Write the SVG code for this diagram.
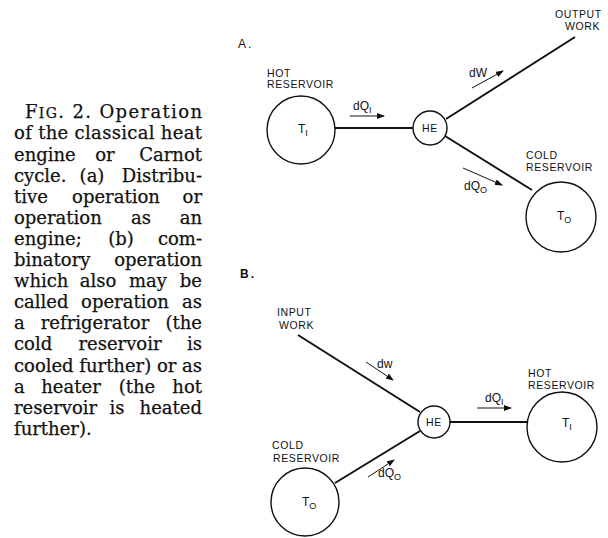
<svg xmlns="http://www.w3.org/2000/svg" width="608" height="538" viewBox="0 0 608 538">
<style>
.cap{font-family:"DejaVu Serif","Liberation Serif",serif;font-size:18px;fill:#111;stroke:#111;stroke-width:0.25}
.lbl{font-family:"Liberation Sans",Arial,sans-serif;font-size:10.5px;fill:#111;letter-spacing:0.6px}
.sec{font-family:"Liberation Sans",Arial,sans-serif;font-size:12px;fill:#111;letter-spacing:2px}
.sym{font-family:"Liberation Sans",Arial,sans-serif;font-size:12px;fill:#111}
.sub{font-size:9px}
.node{fill:#fff;stroke:#111;stroke-width:1.4}
.conn{stroke:#111;stroke-width:2;fill:none}
.flow{stroke:#111;stroke-width:1;fill:none;marker-end:url(#ah)}
.r{text-anchor:end}
.m{text-anchor:middle}
</style>
<defs>
<marker id="ah" markerUnits="userSpaceOnUse" markerWidth="8" markerHeight="6" refX="7" refY="3" orient="auto">
<path d="M0,0 L8,3 L0,6 Z" fill="#111"/>
</marker>
</defs>
<rect width="608" height="538" fill="#fff"/>

<g id="caption" class="cap">
<text x="25" y="118" textLength="177" lengthAdjust="spacing">F<tspan font-size="14">IG</tspan>. 2. Operation</text>
<text x="14" y="139.3" textLength="188" lengthAdjust="spacing">of the classical heat</text>
<text x="14" y="160.5">engine</text><text x="105" y="160.5" class="m">or</text><text x="202" y="160.5" class="r">Carnot</text>
<text x="14" y="181.6">cycle.</text><text x="92" y="181.6" class="m">(a)</text><text x="202" y="181.6" class="r">Distribu-</text>
<text x="14" y="202.7">tive</text><text x="116" y="202.7" class="m">operation</text><text x="202" y="202.7" class="r">or</text>
<text x="14" y="223.8">operation</text><text x="141" y="223.8" class="m">as</text><text x="202" y="223.8" class="r">an</text>
<text x="14" y="244.9">engine;</text><text x="121" y="244.9" class="m">(b)</text><text x="202" y="244.9" class="r">com-</text>
<text x="14" y="266">binatory</text><text x="202" y="266" class="r">operation</text>
<text x="14" y="287.1">which</text><text x="98" y="287.1" class="m">also</text><text x="148" y="287.1" class="m">may</text><text x="202" y="287.1" class="r">be</text>
<text x="14" y="308.2">called</text><text x="125" y="308.2" class="m">operation</text><text x="202" y="308.2" class="r">as</text>
<text x="14" y="329.3">a</text><text x="95" y="329.3" class="m">refrigerator</text><text x="202" y="329.3" class="r">(the</text>
<text x="14" y="350.4">cold</text><text x="120" y="350.4" class="m">reservoir</text><text x="202" y="350.4" class="r">is</text>
<text x="14" y="371.5" textLength="188" lengthAdjust="spacing">cooled further) or as</text>
<text x="14" y="392.6">a</text><text x="71" y="392.6" class="m">heater</text><text x="137" y="392.6" class="m">(the</text><text x="202" y="392.6" class="r">hot</text>
<text x="14" y="413.7">reservoir</text><text x="117" y="413.7" class="m">is</text><text x="202" y="413.7" class="r">heated</text>
<text x="14" y="434.8">further).</text>
</g>

<g id="connectors">
<line class="conn" x1="335" y1="128" x2="413" y2="128"/>
<line class="conn" x1="446" y1="119" x2="575" y2="37"/>
<line class="conn" x1="445" y1="136" x2="532" y2="190"/>
<line class="conn" x1="298" y1="335" x2="420" y2="412"/>
<line class="conn" x1="450" y1="422" x2="527" y2="422"/>
<line class="conn" x1="335" y1="483" x2="420" y2="431"/>
<line class="flow" x1="350" y1="116" x2="384" y2="116"/>
<line class="flow" x1="472" y1="88" x2="503" y2="71"/>
<line class="flow" x1="463" y1="168" x2="502" y2="185"/>
<line class="flow" x1="366" y1="362" x2="393" y2="380"/>
<line class="flow" x1="477" y1="408" x2="511" y2="408"/>
<line class="flow" x1="368" y1="477" x2="394" y2="460"/>
</g>

<g id="labelA"><text class="sec" x="238" y="48">A.</text></g>
<g id="labelB"><text class="sec" x="240" y="278" font-weight="bold">B.</text></g>

<g id="a-hot">
<text class="lbl" x="267" y="76.5">HOT</text>
<text class="lbl" x="267" y="88">RESERVOIR</text>
<circle class="node" cx="301" cy="130" r="34"/>
<text class="sym" x="298" y="133">T<tspan class="sub" dy="3">I</tspan></text>
</g>
<g id="a-he">
<circle class="node" cx="430" cy="128" r="17"/>
<text class="lbl m" x="430" y="132">HE</text>
</g>
<g id="a-output">
<text class="lbl" x="555" y="18">OUTPUT</text>
<text class="lbl" x="565" y="30">WORK</text>
</g>
<g id="a-cold">
<text class="lbl" x="526" y="159">COLD</text>
<text class="lbl" x="526" y="171">RESERVOIR</text>
<circle class="node" cx="561" cy="217" r="35"/>
<text class="sym" x="557" y="220">T<tspan class="sub" dy="3">O</tspan></text>
</g>
<g id="a-flowlabels" class="sym">
<text x="353" y="110">dQ<tspan class="sub" dy="3">I</tspan></text>
<text x="469" y="77">dW</text>
<text x="464" y="190">dQ<tspan class="sub" dy="3">O</tspan></text>
</g>

<g id="b-input">
<text class="lbl" x="277" y="316">INPUT</text>
<text class="lbl" x="279" y="329">WORK</text>
</g>
<g id="b-he">
<circle class="node" cx="434" cy="422" r="16"/>
<text class="lbl m" x="434" y="426">HE</text>
</g>
<g id="b-hot">
<text class="lbl" x="528" y="377">HOT</text>
<text class="lbl" x="528" y="389">RESERVOIR</text>
<circle class="node" cx="562" cy="427" r="35"/>
<text class="sym" x="562" y="427">T<tspan class="sub" dy="3">I</tspan></text>
</g>
<g id="b-cold">
<text class="lbl" x="272" y="449">COLD</text>
<text class="lbl" x="273" y="462">RESERVOIR</text>
<circle class="node" cx="305" cy="502" r="34"/>
<text class="sym" x="302" y="506">T<tspan class="sub" dy="3">O</tspan></text>
</g>
<g id="b-flowlabels" class="sym">
<text x="377" y="368">dw</text>
<text x="485" y="402">dQ<tspan class="sub" dy="3">I</tspan></text>
<text x="378" y="477">dQ<tspan class="sub" dy="3">O</tspan></text>
</g>
</svg>
